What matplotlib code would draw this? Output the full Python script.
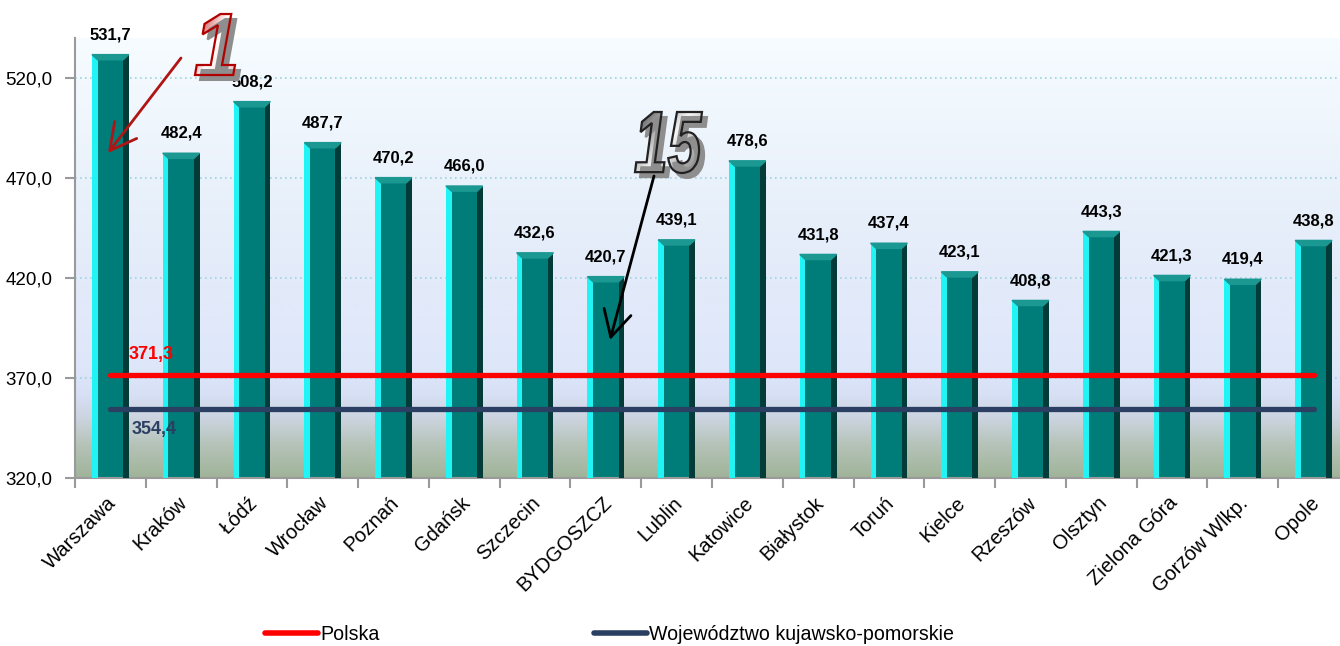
import matplotlib
matplotlib.use('Agg')
import matplotlib.pyplot as plt
import matplotlib.transforms as mtransforms
import numpy as np
from matplotlib.colors import LinearSegmentedColormap
from matplotlib.patches import Polygon, PathPatch
from matplotlib.textpath import TextPath
from matplotlib.font_manager import FontProperties
from matplotlib.lines import Line2D

plt.rcParams['font.family'] = ['Liberation Sans', 'DejaVu Sans']

miasta = ['Warszawa', 'Kraków', 'Łódź', 'Wrocław', 'Poznań', 'Gdańsk', 'Szczecin',
          'BYDGOSZCZ', 'Lublin', 'Katowice', 'Białystok', 'Toruń', 'Kielce',
          'Rzeszów', 'Olsztyn', 'Zielona Góra', 'Gorzów Wlkp.', 'Opole']
wartosci = [531.7, 482.4, 508.2, 487.7, 470.2, 466.0, 432.6, 420.7, 439.1,
            478.6, 431.8, 437.4, 423.1, 408.8, 443.3, 421.3, 419.4, 438.8]
polska = 371.3
kujawsko_pomorskie = 354.4
y_ticks = [320, 370, 420, 470, 520]
y_min, y_max = 320, 540


def fmt(v):
    return f"{v:.1f}".replace('.', ',')


fig = plt.figure(figsize=(13.4, 6.46), dpi=100)
ax = fig.add_axes([75 / 1340, 168 / 646, 1274 / 1340, 440 / 646])

n = len(miasta)
x = np.arange(n)

# tło z gradientem
tlo = LinearSegmentedColormap.from_list('tlo', [
    (0.0, '#a0b499'), (0.07, '#b4c2b6'), (0.13, '#cad3dd'), (0.19, '#d8e0f6'),
    (0.25, '#dee6fa'), (0.6, '#e7effa'), (1.0, '#f6fcff')])
grad = np.linspace(0, 1, 256).reshape(-1, 1)
ax.imshow(grad, cmap=tlo, origin='lower', aspect='auto',
          extent=[-0.5, n - 0.5, y_min, y_max], zorder=0)

for t in y_ticks[1:]:
    ax.axhline(t, color='#9fd2e2', ls=(0, (1, 2)), lw=1.2, zorder=1)

# słupki "3D": front, boki i ścięty wierzch
w, s, cap = 0.52, 0.08, 2.6
ax.bar(x, wartosci, width=w, color='#007d78', zorder=2)
ax.bar(x - w / 2 + s / 2, wartosci, width=s, color='#20f4f4', zorder=3)
ax.bar(x + w / 2 - s / 2, wartosci, width=s, color='#033b39', zorder=3)
for xi, v in zip(x, wartosci):
    ax.add_patch(Polygon([(xi - w / 2, v), (xi + w / 2, v),
                          (xi + w / 2 - s, v - cap), (xi - w / 2 + s, v - cap)],
                         closed=True, color='#1c9893', zorder=4))
    ax.annotate(fmt(v), (xi, v), xytext=(0, 11), textcoords='offset points',
                ha='center', va='baseline', fontsize=12, fontweight='bold', zorder=6)

ax.plot([x[0], x[-1]], [polska, polska], color='#ff0000', lw=3.8,
        solid_capstyle='round', zorder=5)
ax.plot([x[0], x[-1]], [kujawsko_pomorskie, kujawsko_pomorskie], color='#2a3f62',
        lw=3.8, solid_capstyle='round', zorder=5)
ax.text(0.58, polska + 6, fmt(polska), color='#ff0000', fontsize=13,
        fontweight='bold', ha='center', va='bottom', zorder=6)
ax.text(0.62, kujawsko_pomorskie - 6, fmt(kujawsko_pomorskie), color='#2a3f62',
        fontsize=13, fontweight='bold', ha='center', va='top', zorder=6)

ax.set_xlim(-0.5, n - 0.5)
ax.set_ylim(y_min, y_max)
ax.set_yticks(y_ticks)
ax.set_yticklabels([fmt(t) for t in y_ticks])
ax.set_xticks(x)
ax.set_xticklabels(miasta, rotation=45, ha='right', va='top', rotation_mode='anchor')
ax.set_xticks(np.arange(n + 1) - 0.5, minor=True)
ax.tick_params(axis='x', which='major', length=0, pad=11, labelsize=14.5)
ax.tick_params(axis='x', which='minor', length=7, width=1.5, color='#9a9a9a', direction='out')
ax.tick_params(axis='y', length=7, width=1.5, color='#9a9a9a', direction='out',
               pad=9, labelsize=13.5)
off = mtransforms.ScaledTranslation(-3 / 72, 0, fig.dpi_scale_trans)
for lab in ax.get_xticklabels():
    lab.set_transform(lab.get_transform() + off)
for side in ['top', 'right']:
    ax.spines[side].set_visible(False)
for side in ['left', 'bottom']:
    ax.spines[side].set_color('#9a9a9a')
    ax.spines[side].set_linewidth(1.5)

# warstwa z numerami i strzałkami (współrzędne w pikselach)
ov = fig.add_axes([0, 0, 1, 1], zorder=10)
ov.set_axis_off()


def duzy_numer(tekst, box, kolory, obrys, cien=(5, 5)):
    x0, y0, x1, y1 = box
    tp = TextPath((0, 0), tekst, size=100,
                  prop=FontProperties(family='Liberation Sans', weight='bold', style='italic'))
    e = tp.get_extents()
    tr = (mtransforms.Affine2D().translate(-e.x0, -e.y0)
          .scale((x1 - x0) / e.width, -(y1 - y0) / e.height).translate(x0, y1))
    p = tr.transform_path(tp)
    pc = mtransforms.Affine2D().translate(*cien).transform_path(p)
    ov.add_patch(PathPatch(pc, facecolor='#8e8e8e', edgecolor='#8e8e8e', lw=1.5))
    maska = PathPatch(p, facecolor='none', edgecolor='none')
    ov.add_patch(maska)
    cm = LinearSegmentedColormap.from_list('g', kolory)
    gx = np.linspace(0, 1, 64)
    gy = np.linspace(0, 1, 64)
    g = 0.6 * gx[None, :] + 0.4 * gy[:, None]
    im = ov.imshow(g, cmap=cm, extent=[x0, x1, y1, y0], origin='upper', aspect='auto')
    im.set_clip_path(maska)
    ov.add_patch(PathPatch(p, facecolor='none', edgecolor=obrys, lw=1.6))


duzy_numer('1', (195, 14, 235, 75), ['#c01818', '#ffffff', '#f2caca'], '#b00000')
duzy_numer('15', (635, 112, 702, 173), ['#4a4a4a', '#f6f6f6', '#7a7a7a'], '#222222')

ov.annotate('', xy=(108, 153), xytext=(181, 58),
            arrowprops=dict(arrowstyle='->,head_length=0.75,head_width=0.4',
                            color='#b01515', lw=2, mutation_scale=25, shrinkA=0, shrinkB=0))
ov.annotate('', xy=(610, 340), xytext=(654, 176),
            arrowprops=dict(arrowstyle='->,head_length=0.75,head_width=0.4',
                            color='black', lw=2, mutation_scale=25, shrinkA=0, shrinkB=0))
ov.set_xlim(0, 1340)
ov.set_ylim(646, 0)

uchwyty = [Line2D([], [], color='#ff0000', lw=4, solid_capstyle='round'),
           Line2D([], [], color='#2a3f62', lw=4, solid_capstyle='round')]
fig.legend(uchwyty, ['Polska', 'Województwo kujawsko-pomorskie'], ncol=2,
           loc='center left', bbox_to_anchor=(265 / 1340, 12 / 646), frameon=False,
           fontsize=14.1, handlelength=2.7, handletextpad=0.15, columnspacing=10.9,
           borderpad=0, borderaxespad=0)

fig.savefig('out.png', dpi=100)
